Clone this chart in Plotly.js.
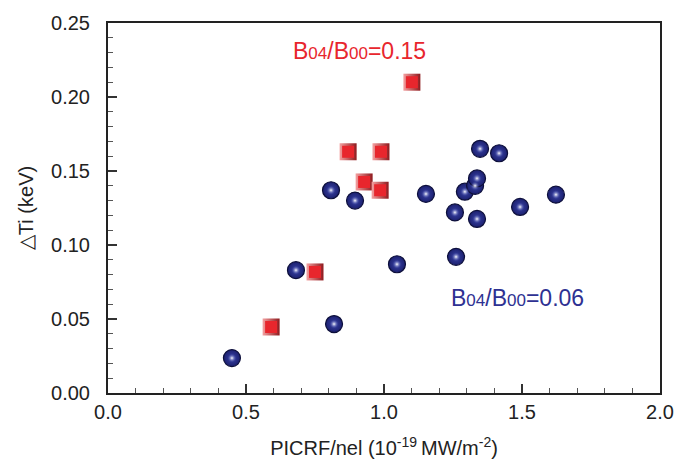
<!DOCTYPE html>
<html>
<head>
<meta charset="utf-8">
<script src="https://cdn.plot.ly/plotly-3.0.1.min.js"></script>
<style>html,body{margin:0;padding:0;background:#fff;}#chart{width:676px;height:462px;}</style>
</head>
<body>
<div id="chart"></div>
<script>
// B04/B00 = 0.15 (red squares)
const redX = [1.101, 0.870, 0.989, 0.928, 0.986, 0.750, 0.591];
const redY = [0.210, 0.163, 0.163, 0.1426, 0.137, 0.0818, 0.0446];
// B04/B00 = 0.06 (blue spheres)
const blueX = [0.449, 0.681, 0.819, 0.808, 0.895, 1.047, 1.152, 1.261, 1.257, 1.293, 1.330, 1.337, 1.337, 1.348, 1.417, 1.493, 1.623];
const blueY = [0.0236, 0.083, 0.0466, 0.137, 0.130, 0.087, 0.1345, 0.092, 0.122, 0.136, 0.140, 0.145, 0.1176, 0.165, 0.162, 0.1257, 0.134];
const xTicks = [0.0, 0.5, 1.0, 1.5, 2.0];
const xTickText = ['0.0', '0.5', '1.0', '1.5', '2.0'];
const yTicks = [0.00, 0.05, 0.10, 0.15, 0.20, 0.25];
const yTickText = ['0.00', '0.05', '0.10', '0.15', '0.20', '0.25'];

const FONT = 'Liberation Sans, Arial, sans-serif';

const traces = [
  // red squares: bevelled look via two layers
  {x: redX, y: redY, type: 'scatter', mode: 'markers', hoverinfo: 'skip',
   marker: {symbol: 'square', size: 17, color: '#f4a0a0',
            gradient: {type: 'horizontal', color: '#8e1a1e'},
            line: {width: 0}}},
  {x: redX, y: redY, type: 'scatter', mode: 'markers', hoverinfo: 'skip',
   marker: {symbol: 'square', size: 12, color: '#e8262d', line: {width: 0}}},
  // blue spheres: navy body + highlight
  {x: blueX, y: blueY, type: 'scatter', mode: 'markers', hoverinfo: 'skip',
   marker: {symbol: 'circle', size: 17, color: '#1b1f6e',
            gradient: {type: 'radial', color: '#3a44a8'},
            line: {width: 1.2, color: '#0d0f3a'}}},
  {x: blueX, y: blueY, type: 'scatter', mode: 'markers', hoverinfo: 'skip',
   marker: {symbol: 'circle', size: 9, color: 'rgba(58,68,168,0)',
            gradient: {type: 'radial', color: '#ffffff'},
            line: {width: 0}}}
];

const layout = {
  width: 676, height: 462,
  margin: {l: 108, r: 16, t: 23, b: 69},
  paper_bgcolor: '#ffffff', plot_bgcolor: '#ffffff',
  showlegend: false,
  font: {family: FONT, size: 19, color: '#222'},
  xaxis: {
    range: [0, 2], tickvals: xTicks, ticktext: xTickText,
    ticks: 'inside', ticklen: 9, tickwidth: 1.3, tickcolor: '#333',
    minor: {dtick: 0.1, ticks: 'inside', ticklen: 5, tickwidth: 1, tickcolor: '#555', showgrid: false},
    showgrid: false, zeroline: false,
    showline: true, linecolor: '#222', linewidth: 2, mirror: true,
    tickfont: {family: FONT, size: 20, color: '#222'},
    title: {text: 'PICRF/nel (10<sup>-19 </sup>MW/m<sup>-2</sup>)', font: {family: FONT, size: 20, color: '#222'}, standoff: 19}
  },
  yaxis: {
    range: [0, 0.25], tickvals: yTicks, ticktext: yTickText,
    ticks: 'inside', ticklen: 9, tickwidth: 1.3, tickcolor: '#333',
    minor: {dtick: 0.01, ticks: 'inside', ticklen: 5, tickwidth: 1, tickcolor: '#555', showgrid: false},
    showgrid: false, zeroline: false,
    showline: true, linecolor: '#222', linewidth: 2, mirror: true,
    ticklabelstandoff: 12,
    tickfont: {family: FONT, size: 20, color: '#222'},
    title: {text: '△Ti (keV)', font: {family: FONT, size: 20, color: '#222'}, standoff: 12}
  },
  annotations: [
    {xref: 'paper', yref: 'paper', x: 0.455, y: 0.925, xanchor: 'center', yanchor: 'middle', showarrow: false,
     text: 'B<span style="font-size:17px">04</span>/B<span style="font-size:17px">00</span>=0.15',
     font: {family: FONT, size: 23, color: '#e8262d'}},
    {xref: 'paper', yref: 'paper', x: 0.741, y: 0.257, xanchor: 'center', yanchor: 'middle', showarrow: false,
     text: 'B<span style="font-size:17px">04</span>/B<span style="font-size:17px">00</span>=0.06',
     font: {family: FONT, size: 23, color: '#2e3192'}}
  ]
};

Plotly.newPlot('chart', traces, layout, {displayModeBar: false, staticPlot: true});
</script>
</body>
</html>
